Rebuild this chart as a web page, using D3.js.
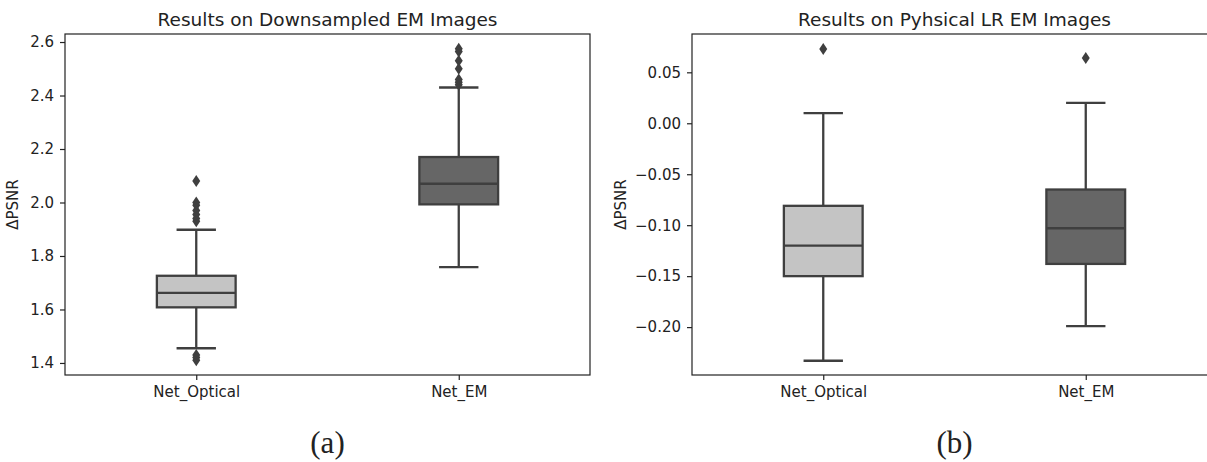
<!DOCTYPE html>
<html>
<head>
<meta charset="utf-8">
<script src="https://cdn.jsdelivr.net/npm/d3@7"></script>
<style>
  body { margin: 0; background: #fff; }
  svg text { font-family: "DejaVu Sans", sans-serif; fill: #222; }
</style>
</head>
<body>
<svg id="chart" width="1207" height="462"></svg>
<script>
// Data
const categories = ["Net_Optical", "Net_EM"];
const boxColors = ["#c4c4c4", "#666666"];

// [whiskerLow, q1, median, q3, whiskerHigh]
const downsampledStats = [
  [1.455, 1.608, 1.662, 1.726, 1.898],
  [1.758, 1.993, 2.070, 2.170, 2.430]
];
const downsampledOutliers = [
  [1.41, 1.42, 1.43, 1.93, 1.94, 1.955, 1.97, 1.99, 2.00, 2.08],
  [2.44, 2.45, 2.46, 2.50, 2.53, 2.565, 2.575]
];
const downsampledTicks = [1.4, 1.6, 1.8, 2.0, 2.2, 2.4, 2.6];

const physicalStats = [
  [-0.233, -0.150, -0.120, -0.081, 0.010],
  [-0.199, -0.138, -0.103, -0.065, 0.020]
];
const physicalOutliers = [
  [0.073],
  [0.064]
];
const physicalTicks = [-0.20, -0.15, -0.10, -0.05, 0.00, 0.05];

const svg = d3.select("#chart");
const lineColor = "#3f3f3f";

// Draws one seaborn-like box panel
function drawPanel(opts) {
  const { left, width, top, bottom, domain, ticks, fmt, stats, outliers, title, caption, labelGap } = opts;
  const g = svg.append("g");

  const x = d3.scaleLinear().domain([-0.5, 1.5]).range([left, left + width]);
  const y = d3.scaleLinear().domain(domain).range([bottom, top]);
  const boxW = x(0.3) - x(0);

  // axes
  const yAxis = d3.axisLeft(y).tickValues(ticks).tickFormat(fmt).tickSize(5).tickPadding(6);
  const xAxis = d3.axisBottom(x).tickValues([0, 1]).tickFormat((d) => categories[d]).tickSize(5).tickPadding(6);

  g.append("g").attr("transform", `translate(${left},0)`).call(yAxis)
    .call((s) => s.select(".domain").remove())
    .selectAll("text").style("font-size", "15px");
  g.append("g").attr("transform", `translate(0,${bottom})`).call(xAxis)
    .call((s) => s.select(".domain").remove())
    .selectAll("text").style("font-size", "15px");
  g.selectAll(".tick line").attr("stroke", "#222").attr("stroke-width", 1.2);

  // frame
  g.append("rect")
    .attr("x", left).attr("y", top)
    .attr("width", width).attr("height", bottom - top)
    .attr("fill", "none").attr("stroke", "#222").attr("stroke-width", 1.2);

  const boxes = g.selectAll("g.box").data(stats).join("g").attr("class", "box");

  // whiskers
  boxes.append("line")
    .attr("x1", (d, i) => x(i)).attr("x2", (d, i) => x(i))
    .attr("y1", (d) => y(d[0])).attr("y2", (d) => y(d[1]))
    .attr("stroke", lineColor).attr("stroke-width", 2.3);
  boxes.append("line")
    .attr("x1", (d, i) => x(i)).attr("x2", (d, i) => x(i))
    .attr("y1", (d) => y(d[3])).attr("y2", (d) => y(d[4]))
    .attr("stroke", lineColor).attr("stroke-width", 2.3);
  // caps
  [0, 4].forEach((k) => {
    boxes.append("line")
      .attr("x1", (d, i) => x(i) - boxW / 4).attr("x2", (d, i) => x(i) + boxW / 4)
      .attr("y1", (d) => y(d[k])).attr("y2", (d) => y(d[k]))
      .attr("stroke", lineColor).attr("stroke-width", 2.3);
  });
  // box
  boxes.append("rect")
    .attr("x", (d, i) => x(i) - boxW / 2)
    .attr("y", (d) => y(d[3]))
    .attr("width", boxW)
    .attr("height", (d) => y(d[1]) - y(d[3]))
    .attr("fill", (d, i) => boxColors[i])
    .attr("stroke", lineColor).attr("stroke-width", 2.3);
  // median
  boxes.append("line")
    .attr("x1", (d, i) => x(i) - boxW / 2).attr("x2", (d, i) => x(i) + boxW / 2)
    .attr("y1", (d) => y(d[2])).attr("y2", (d) => y(d[2]))
    .attr("stroke", lineColor).attr("stroke-width", 2.3);

  // outliers as diamonds
  const pts = outliers.flatMap((arr, i) => arr.map((v) => ({ i, v })));
  g.selectAll("path.outlier").data(pts).join("path")
    .attr("class", "outlier")
    .attr("d", "M0,-6 L4,0 L0,6 L-4,0 Z")
    .attr("transform", (d) => `translate(${x(d.i)},${y(d.v)})`)
    .attr("fill", lineColor);

  // labels
  g.append("text")
    .attr("x", left + width / 2).attr("y", top - 8)
    .attr("text-anchor", "middle")
    .style("font-size", "18.5px")
    .text(title);
  g.append("text")
    .attr("transform", `translate(${left - labelGap},${(top + bottom) / 2}) rotate(-90)`)
    .attr("text-anchor", "middle")
    .style("font-size", "15px")
    .text("ΔPSNR");
  g.append("text")
    .attr("x", left + width / 2).attr("y", 453)
    .attr("text-anchor", "middle")
    .style("font-family", "'Liberation Serif', 'Times New Roman', serif")
    .style("font-size", "31px")
    .text(caption);
}

drawPanel({
  left: 65, width: 525, top: 34, bottom: 375,
  domain: [1.355, 2.63],
  ticks: downsampledTicks,
  fmt: d3.format(".1f"),
  stats: downsampledStats,
  outliers: downsampledOutliers,
  title: "Results on Downsampled EM Images",
  caption: "(a)",
  labelGap: 47
});

drawPanel({
  left: 692, width: 525, top: 34, bottom: 375,
  domain: [-0.247, 0.0876],
  ticks: physicalTicks,
  fmt: (d) => d3.format(".2f")(d).replace("-", "\u2212"),
  stats: physicalStats,
  outliers: physicalOutliers,
  title: "Results on Pyhsical LR EM Images",
  caption: "(b)",
  labelGap: 66
});
</script>
</body>
</html>
